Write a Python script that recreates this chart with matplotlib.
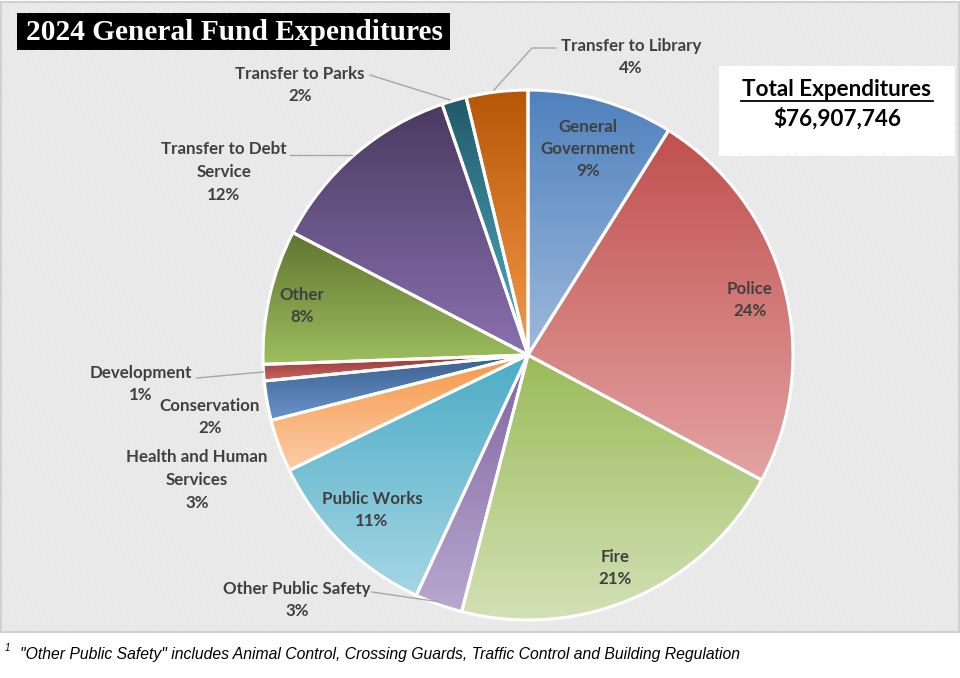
import numpy as np
import matplotlib
matplotlib.use("Agg")
import matplotlib.pyplot as plt
from matplotlib.patches import Rectangle, Wedge
from matplotlib import colors as mcolors

# data (percent of total)
categories = ["General\nGovernment", "Police", "Fire", "Other Public Safety",
              "Public Works", "Health and Human\nServices", "Conservation",
              "Development", "Other", "Transfer to Debt\nService",
              "Transfer to Parks", "Transfer to Library"]
shares = [8.9, 23.9, 21.2, 2.9, 10.9, 3.2, 2.4, 1.0, 8.2, 12.1, 1.5, 3.75]
pct_labels = ["9%", "24%", "21%", "3%", "11%", "3%", "2%", "1%", "8%", "12%", "2%", "4%"]
total_text = "$76,907,746"

# gradient colours, top (dark) -> bottom (light)
top_colors = ["#4F81BD", "#C0504D", "#9BBB59", "#8064A2", "#4BACC6", "#F79646",
              "#3A5F8F", "#953735", "#5F7530", "#4A3A60", "#215967", "#B65708"]
bot_colors = ["#9DB9DC", "#E3A3A2", "#D2E1B6", "#B9A8CF", "#A5D6E4", "#FCCDA8",
              "#6A93CB", "#C96562", "#9EBE5E", "#8A70B0", "#4FAFC9", "#F7984A"]

W, H = 960, 678
fig = plt.figure(figsize=(9.6, 6.78), dpi=100)
fig.patch.set_facecolor("white")
ax = fig.add_axes([0, 0, 1, 1])

# hatched chart background
plt.rcParams["hatch.linewidth"] = 0.6
ax.add_patch(Rectangle((1, 46), W - 2, H - 48, facecolor="#FBFBFB",
                       edgecolor="#D8D8D8", hatch="\\" * 14, lw=0, zorder=0))
ax.add_patch(Rectangle((1, 46), W - 2, H - 48, fill=False, edgecolor="#D0D0D0",
                       lw=1.5, zorder=0.5))

cx, cy, R = 528, H - 355, 265
wedges, _ = ax.pie(shares, startangle=90, counterclock=False, center=(cx, cy),
                   radius=R, colors=top_colors,
                   wedgeprops=dict(edgecolor="white", linewidth=0))

for w, c0, c1 in zip(wedges, top_colors, bot_colors):
    ext = w.get_path().get_extents()
    a = np.array(mcolors.to_rgb(c1))
    b = np.array(mcolors.to_rgb(c0))
    t = np.linspace(0, 1, 200)[:, None]
    grad = (a * (1 - t) + b * t)[:, None, :]
    im = ax.imshow(grad, extent=[ext.x0, ext.x1, ext.y0, ext.y1], origin="lower",
                   aspect="auto", zorder=2, interpolation="bilinear")
    im.set_clip_path(w)
    ax.add_patch(Wedge(w.center, w.r, w.theta1, w.theta2, fill=False,
                       edgecolor="white", lw=2.2, zorder=3))

ax.set_xlim(0, W)
ax.set_ylim(0, H)
ax.set_aspect("auto")
ax.axis("off")

# label placement (pixel positions, y from top)
lab_pos = [(588, 149), (750, 300), (615, 568), (297, 600), (372, 510), (197, 480),
           (210, 417), (141, 384), (302, 306), (224, 172), (300, 85), (631, 57)]
leaders = {3: [(372, 592), (440, 602)], 7: [(197, 378), (263, 372)],
           9: [(290, 155), (352, 155)], 10: [(370, 75), (450, 100)],
           11: [(556, 48), (532, 48), (494, 90)]}
lab_font = dict(family=["Lato", "DejaVu Sans"], fontsize=12.2, fontweight="bold",
                color="#404040", ha="center", va="center", linespacing=1.5)
for i, (cat, p) in enumerate(zip(categories, pct_labels)):
    x, y = lab_pos[i]
    ax.text(x, H - y, cat + "\n" + p, zorder=5, **lab_font)
    if i in leaders:
        xs = [q[0] for q in leaders[i]]
        ys = [H - q[1] for q in leaders[i]]
        ax.plot(xs, ys, color="#A6A6A6", lw=1, zorder=4)

# title box
ax.add_patch(Rectangle((17, H - 50), 433, 37, facecolor="black", zorder=6))
ax.text(234, H - 32, "2024 General Fund Expenditures", color="white",
        family=["Liberation Serif", "DejaVu Serif"], fontweight="bold",
        fontsize=21.2, ha="center", va="center", zorder=7)

# total box
ax.add_patch(Rectangle((719, H - 156), 236, 90, facecolor="white", zorder=6))
ax.text(837, H - 89, "Total Expenditures", color="black", family=["Lato", "DejaVu Sans"],
        fontweight="bold", fontsize=16.2, ha="center", va="center", zorder=7)
ax.plot([741, 933], [H - 101, H - 101], color="black", lw=1.3, zorder=7)
ax.text(837, H - 119, total_text, color="black", family=["Lato", "DejaVu Sans"],
        fontweight="bold", fontsize=16.2, ha="center", va="center", zorder=7)

# footnote
ax.text(5, H - 648, "1", fontsize=7, style="italic",
        family=["Liberation Sans", "DejaVu Sans"], va="center")
ax.text(20, H - 655, '"Other Public Safety" includes Animal Control, Crossing Guards, '
        'Traffic Control and Building Regulation', fontsize=11.3, style="italic",
        family=["Liberation Sans", "DejaVu Sans"], va="center")

fig.savefig("out.png", dpi=100, facecolor="white")
